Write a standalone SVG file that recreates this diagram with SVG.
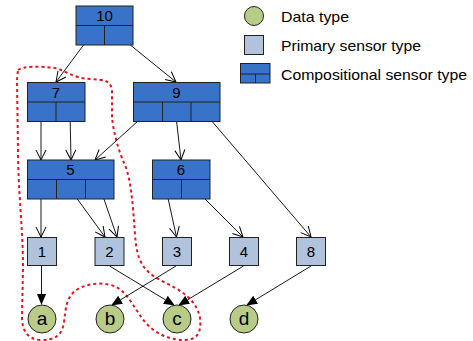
<svg xmlns="http://www.w3.org/2000/svg" width="473" height="341" viewBox="0 0 473 341">
<defs>
<style>
.comp{fill:#3873C9;stroke:#222;stroke-width:1}
.prim{fill:#B0C2DC;stroke:#222;stroke-width:1}
.data{fill:#B8CC88;stroke:#222;stroke-width:1}
.div{stroke:#222;stroke-width:1;fill:none}
.lbl{font-family:"Liberation Sans",Arial,sans-serif;font-size:15px;fill:#000;text-anchor:middle}
.let{font-family:"Liberation Sans",Arial,sans-serif;font-size:19px;fill:#000;text-anchor:middle}
.leg{font-family:"Liberation Sans",Arial,sans-serif;font-size:14.5px;fill:#000}
.e{stroke:#000;stroke-width:0.9;fill:none}
.open{marker-end:url(#openArrow)}
.fill{marker-end:url(#filledArrow)}
</style>
<marker id="openArrow" viewBox="0 0 12 12" refX="11" refY="6" markerWidth="12" markerHeight="12" markerUnits="userSpaceOnUse" orient="auto">
<path d="M1,1 L11,6 L1,11" fill="none" stroke="#000" stroke-width="1"/>
</marker>
<marker id="filledArrow" viewBox="0 0 12 12" refX="11" refY="6" markerWidth="11" markerHeight="11" markerUnits="userSpaceOnUse" orient="auto">
<path d="M0,1 L12,6 L0,11 Z" fill="#000"/>
</marker>
</defs>

<g id="outline">
<path d="M18,70 C24,66 40,66 55,68 C65,70 72,78 90,79 C105,80 110,80 112,90 L112,117 C113,130 118,150 125,165 C131,180 133,205 135,235 C137,260 142,270 160,280 C180,290 196,298 200,318 C202,335 195,340 185,340 C170,340 155,334 145,322 C135,310 130,296 118,288 C108,282 90,282 78,289 C66,296 66,308 64,322 C62,336 55,340 40,340 C27,339 22,330 22,317 L23,267 C23,230 18,190 18,150 L17,80 Z" fill="none" stroke="#E8141B" stroke-width="2" stroke-dasharray="3,3"/>
</g>

<g id="connectors">
<line class="e open" x1="91" y1="35" x2="56" y2="82"/>
<line class="e open" x1="118" y1="35" x2="176" y2="82"/>
<line class="e open" x1="41" y1="112" x2="41" y2="160"/>
<line class="e open" x1="70" y1="112" x2="71" y2="160"/>
<line class="e open" x1="148" y1="112" x2="95" y2="160"/>
<line class="e open" x1="175.5" y1="112" x2="181" y2="160"/>
<line class="e open" x1="204" y1="112" x2="311" y2="237"/>
<line class="e open" x1="41" y1="189" x2="41" y2="237"/>
<line class="e open" x1="70" y1="189" x2="105" y2="237"/>
<line class="e open" x1="100.5" y1="189" x2="117" y2="237"/>
<line class="e open" x1="166" y1="189" x2="176.5" y2="237"/>
<line class="e open" x1="195" y1="189" x2="243" y2="237"/>
<line class="e fill" x1="41.5" y1="266" x2="41.5" y2="304"/>
<line class="e fill" x1="109.5" y1="266" x2="174" y2="305"/>
<line class="e fill" x1="176" y1="266" x2="112" y2="305"/>
<line class="e fill" x1="243.5" y1="266" x2="179" y2="305"/>
<line class="e fill" x1="311" y1="266" x2="247" y2="305"/>
</g>

<g id="n10">
<rect class="comp" x="76" y="6" width="57" height="39"/>
<path class="div" d="M76,25.5 H133 M104.5,25.5 V45"/>
<text class="lbl" x="104.5" y="21">10</text>
</g>
<g id="n7">
<rect class="comp" x="27.5" y="82.5" width="57.5" height="39"/>
<path class="div" d="M27.5,102 H85 M56,102 V121.5"/>
<text class="lbl" x="56" y="97.5">7</text>
</g>
<g id="n9">
<rect class="comp" x="133.5" y="82.5" width="86.5" height="39"/>
<path class="div" d="M133.5,102 H220 M162.5,102 V121.5 M191,102 V121.5"/>
<text class="lbl" x="176.5" y="97.5">9</text>
</g>
<g id="n5">
<rect class="comp" x="27.5" y="160" width="86.5" height="39"/>
<path class="div" d="M27.5,179.5 H114 M56.5,179.5 V199 M85.5,179.5 V199"/>
<text class="lbl" x="70.5" y="175">5</text>
</g>
<g id="n6">
<rect class="comp" x="152.5" y="160" width="57.5" height="39"/>
<path class="div" d="M152.5,179.5 H210 M181.5,179.5 V199"/>
<text class="lbl" x="181" y="175">6</text>
</g>

<g id="n1"><rect class="prim" x="27.5" y="237.5" width="29" height="28"/><text class="lbl" x="42" y="257">1</text></g>
<g id="n2"><rect class="prim" x="95" y="237.5" width="29" height="28"/><text class="lbl" x="109.5" y="257">2</text></g>
<g id="n3"><rect class="prim" x="162.5" y="237.5" width="29" height="28"/><text class="lbl" x="177" y="257">3</text></g>
<g id="n4"><rect class="prim" x="229.5" y="237.5" width="29" height="28"/><text class="lbl" x="244" y="257">4</text></g>
<g id="n8"><rect class="prim" x="296.5" y="237.5" width="29" height="28"/><text class="lbl" x="311" y="257">8</text></g>

<g id="na"><circle class="data" cx="42" cy="319" r="14"/><text class="let" x="42" y="325">a</text></g>
<g id="nb"><circle class="data" cx="110" cy="319" r="14"/><text class="let" x="110" y="325">b</text></g>
<g id="nc"><circle class="data" cx="177" cy="319" r="14"/><text class="let" x="177" y="325">c</text></g>
<g id="nd"><circle class="data" cx="244" cy="319" r="14"/><text class="let" x="244" y="325">d</text></g>

<g id="legend">
<circle class="data" cx="254" cy="16" r="9.5"/>
<text class="leg" x="281" y="21.5" textLength="68" lengthAdjust="spacingAndGlyphs">Data type</text>
<rect class="prim" x="244.5" y="35.5" width="19" height="19"/>
<text class="leg" x="281" y="50.5" textLength="140" lengthAdjust="spacingAndGlyphs">Primary sensor type</text>
<rect class="comp" x="240.5" y="63.5" width="29.5" height="19.5"/>
<path class="div" d="M240.5,74 H270 M255.5,74 V83"/>
<text class="leg" x="281" y="79.5" textLength="186" lengthAdjust="spacingAndGlyphs">Compositional sensor type</text>
</g>
</svg>
